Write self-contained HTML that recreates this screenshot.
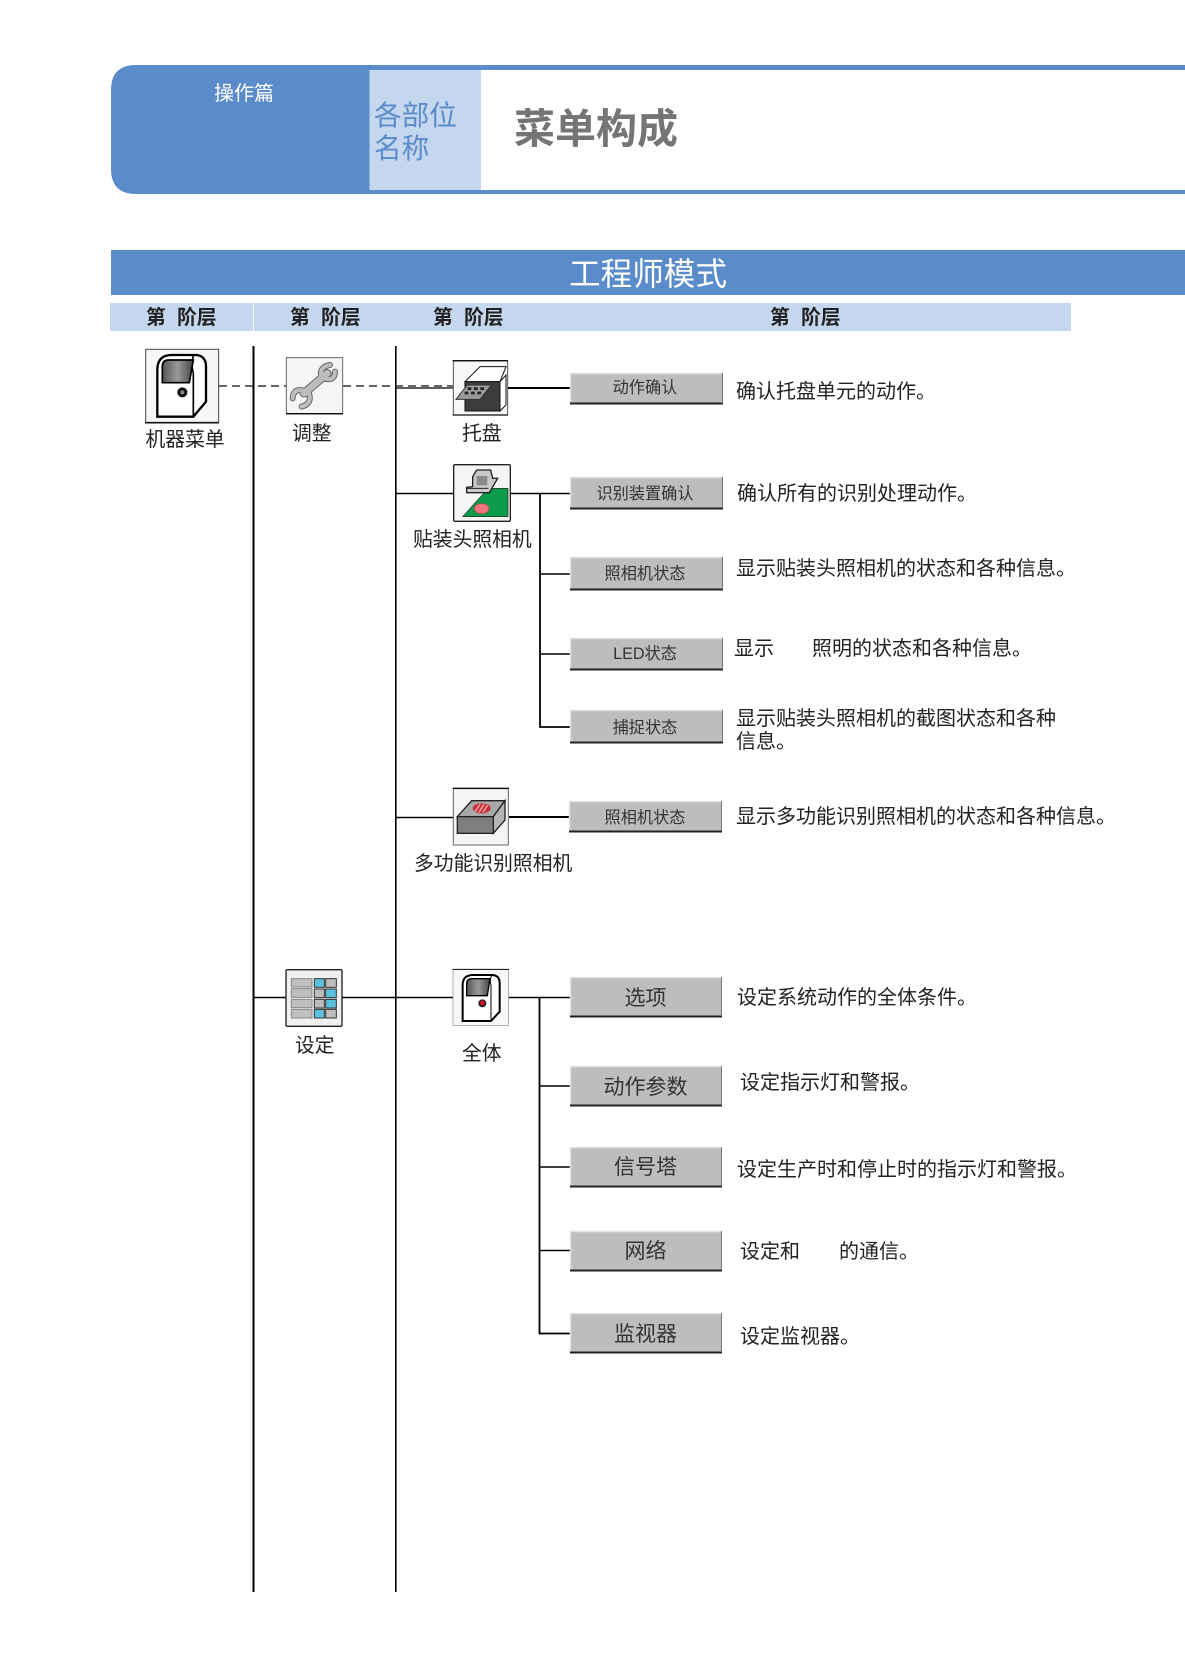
<!DOCTYPE html>
<html lang="zh"><head><meta charset="utf-8"><title>菜单构成</title>
<style>
html,body{margin:0;padding:0;background:#fff;width:1185px;height:1675px;overflow:hidden}
svg{display:block}
text{font-family:"Liberation Sans","Noto Sans CJK SC","WenQuanYi Zen Hei",sans-serif;fill:#222}
.d{font-size:20px}
.l{font-size:19.8px}
.b{font-size:16.2px;text-anchor:middle;fill:#333}
.B{font-size:21px;text-anchor:middle;fill:#333}
.h{font-size:19.8px;font-weight:bold;fill:#222}
</style></head><body>
<svg width="1185" height="1675" viewBox="0 0 1185 1675" xmlns="http://www.w3.org/2000/svg">
<defs>
<linearGradient id="w" x1="0" x2="1" y1="0" y2="0"><stop offset="0" stop-color="#555"/><stop offset=".5" stop-color="#999"/><stop offset="1" stop-color="#444"/></linearGradient>
</defs>

<!-- header -->
<path d="M1185,65 H136 Q111,65 111,90 V169 Q111,194 136,194 H1185 V190 H481 V70 H1185 Z" fill="#5a8bca"/>
<rect x="369.500" y="70" width="111.500" height="120" fill="#c5d6ef"/>
<text x="214" y="100" font-size="20" style="fill:#fff">操作篇</text>
<text x="374" y="125" font-size="27.600" style="fill:#5a8bca">各部位</text>
<text x="374" y="158" font-size="27.600" style="fill:#5a8bca">名称</text>
<text x="514" y="143" font-size="41" font-weight="bold" style="fill:#757575">菜单构成</text>

<rect x="111" y="250" width="1074" height="45" fill="#5a8bca"/>
<text x="569" y="285" font-size="31.600" style="fill:#fff">工程师模式</text>

<rect x="110" y="303" width="961" height="28" fill="#c5d6ef"/>
<rect x="253" y="303" width="1" height="28" fill="#fff"/>
<text class="h" x="146" y="324">第</text><text class="h" x="177" y="324">阶层</text>
<text class="h" x="290" y="324">第</text><text class="h" x="321" y="324">阶层</text>
<text class="h" x="433" y="324">第</text><text class="h" x="464" y="324">阶层</text>
<text class="h" x="770" y="324">第</text><text class="h" x="801" y="324">阶层</text>

<!-- main lines -->
<g stroke="#000" fill="none">
<path d="M253.500,346 V1592" stroke-width="2"/>
<path d="M395.800,346 V1592" stroke-width="1.600"/>
<path d="M219,386 H286 M343,386 H453" stroke="#333" stroke-width="1.400" stroke-dasharray="8 5"/>
<path d="M396,388 H453" stroke-width="1.200"/>
<path d="M508,388 H571" stroke-width="2"/>
<path d="M396,493.500 H453" stroke-width="1.400"/>
<path d="M511,493.500 H570" stroke-width="1.400"/>
<path d="M540,493 V727 H570" stroke-width="1.800"/>
<path d="M540,574 H570 M540,654 H570" stroke-width="1.600"/>
<path d="M396,817.500 H453" stroke-width="1.600"/>
<path d="M509,817 H569" stroke-width="2"/>
<path d="M253,997.500 H286 M342,997.500 H453" stroke-width="1.400"/>
<path d="M509,997.500 H570" stroke-width="1.600"/>
<path d="M539.500,997 V1333.500 H570" stroke-width="1.800"/>
<path d="M539,1086 H570 M539,1167 H570 M539,1250.500 H570" stroke-width="1.600"/>
</g>

<!-- buttons -->
<g>
<g fill="#bdbdbd" stroke="none">
<rect x="570" y="373" width="153" height="31"/>
<rect x="570" y="477" width="153" height="32"/>
<rect x="570" y="557" width="153" height="33"/>
<rect x="570" y="638" width="153" height="32"/>
<rect x="570" y="710" width="153" height="33"/>
<rect x="569" y="801" width="153" height="31"/>
<rect x="570" y="977" width="152" height="40"/>
<rect x="570" y="1066" width="152" height="40"/>
<rect x="570" y="1147" width="152" height="40"/>
<rect x="570" y="1231" width="152" height="40"/>
<rect x="570" y="1313" width="152" height="40"/>
</g>
<g fill="none" stroke="#e2e2e2" stroke-width="1.500">
<path d="M570.500,403 V373.500 H723"/><path d="M570.500,508 V477.500 H723"/><path d="M570.500,589 V557.500 H723"/><path d="M570.500,669 V638.500 H723"/><path d="M570.500,742 V710.500 H723"/><path d="M569.500,831 V801.500 H722"/>
<path d="M570.500,1016 V977.500 H722"/><path d="M570.500,1105 V1066.500 H722"/><path d="M570.500,1186 V1147.500 H722"/><path d="M570.500,1270 V1231.500 H722"/><path d="M570.500,1352 V1313.500 H722"/>
</g>
<g fill="none" stroke="#222" stroke-width="2">
<path d="M570,403.500 H723"/><path d="M570,508.500 H723"/><path d="M570,589.500 H723"/><path d="M570,669.500 H723"/><path d="M570,742.500 H723"/><path d="M569,831.500 H722"/>
<path d="M570,1016.500 H722"/><path d="M570,1105.500 H722"/><path d="M570,1186.500 H722"/><path d="M570,1270.500 H722"/><path d="M570,1352.500 H722"/>
</g>
<g fill="none" stroke="#777" stroke-width="1">
<path d="M722.500,373 V403"/><path d="M722.500,477 V508"/><path d="M722.500,557 V589"/><path d="M722.500,638 V669"/><path d="M722.500,710 V742"/><path d="M721.500,801 V831"/>
<path d="M721.500,977 V1016"/><path d="M721.500,1066 V1105"/><path d="M721.500,1147 V1186"/><path d="M721.500,1231 V1270"/><path d="M721.500,1313 V1352"/>
</g>
</g>
<text class="b" x="645" y="393">动作确认</text>
<text class="b" x="645" y="499">识别装置确认</text>
<text class="b" x="645" y="579">照相机状态</text>
<text class="b" x="645" y="659">LED状态</text>
<text class="b" x="645" y="733">捕捉状态</text>
<text class="b" x="645" y="823">照相机状态</text>
<text class="B" x="645.500" y="1005">选项</text>
<text class="B" x="645.500" y="1094">动作参数</text>
<text class="B" x="645.500" y="1174">信号塔</text>
<text class="B" x="645.500" y="1258">网络</text>
<text class="B" x="645.500" y="1341">监视器</text>

<!-- descriptions -->
<text class="d" x="736" y="398">确认托盘单元的动作。</text>
<text class="d" x="737" y="500">确认所有的识别处理动作。</text>
<text class="d" x="736" y="575">显示贴装头照相机的状态和各种信息。</text>
<text class="d" x="734" y="655">显示</text><text class="d" x="812" y="655">照明的状态和各种信息。</text>
<text class="d" x="736" y="725">显示贴装头照相机的截图状态和各种</text>
<text class="d" x="736" y="748">信息。</text>
<text class="d" x="736" y="823">显示多功能识别照相机的状态和各种信息。</text>
<text class="d" x="737" y="1004">设定系统动作的全体条件。</text>
<text class="d" x="740" y="1089">设定指示灯和警报。</text>
<text class="d" x="737" y="1176">设定生产时和停止时的指示灯和警报。</text>
<text class="d" x="740" y="1258">设定和</text><text class="d" x="839" y="1258">的通信。</text>
<text class="d" x="740" y="1343">设定监视器。</text>

<!-- labels -->
<text class="l" x="145.500" y="446">机器菜单</text>
<text class="l" x="292" y="440">调整</text>
<text class="l" x="462" y="440">托盘</text>
<text class="l" x="413" y="546">贴装头照相机</text>
<text class="l" x="414" y="870">多功能识别照相机</text>
<text class="l" x="295" y="1052">设定</text>
<text class="l" x="462" y="1060">全体</text>

<!-- icons in zoomed coords -->
<g transform="translate(100 330) scale(.33333)">
 <!-- machine -->
 <rect x="137" y="58" width="219" height="221" fill="#f6f6f4" stroke="#444" stroke-width="3"/>
 <path d="M136,278 H356" stroke="#111" stroke-width="5"/>
 <path d="M172,260 V120 Q172,75 215,75 H290 Q318,78 318,110 V215 L280,260 Z" fill="#fff" stroke="#000" stroke-width="7"/>
 <path d="M280,78 Q272,100 280,130 V260" fill="none" stroke="#000" stroke-width="5"/>
 <path d="M187,158 V110 Q187,90 205,90 H280 L268,158 Z" fill="url(#w)" stroke="#000" stroke-width="5"/>
 <circle cx="247" cy="187" r="15" fill="#111"/><circle cx="247" cy="187" r="6" fill="#888"/>
 <!-- wrench -->
 <rect x="559" y="83" width="169" height="169" fill="#f5f5f3" stroke="#666" stroke-width="3"/>
 <path d="M558,251 H729" stroke="#111" stroke-width="4"/>
 <g fill="none" stroke-linecap="round">
  <path d="M612,190 L682,130" stroke="#666" stroke-width="26"/>
  <path d="M690,105 Q655,110 665,145 M705,125 Q705,155 670,145" stroke="#666" stroke-width="18"/>
  <path d="M605,230 Q640,220 625,185 M578,205 Q580,170 620,185" stroke="#666" stroke-width="18"/>
  <path d="M612,190 L682,130" stroke="#bdbdbd" stroke-width="20"/>
  <path d="M690,105 Q655,110 665,145 M705,125 Q705,155 670,145" stroke="#bdbdbd" stroke-width="12"/>
  <path d="M605,230 Q640,220 625,185 M578,205 Q580,170 620,185" stroke="#bdbdbd" stroke-width="12"/>
 </g>
 <!-- tray -->
 <rect x="1060" y="93" width="163" height="162" fill="#f7f8f5" stroke="#555" stroke-width="3"/>
 <path d="M1058,92 H1224 M1058,255 H1224" stroke="#111" stroke-width="4"/>
 <path d="M1095,155 L1140,110 H1218 L1200,155 Z" fill="#fff" stroke="#111" stroke-width="3"/>
 <path d="M1200,155 L1218,135 V225 L1200,243 Z" fill="#fff" stroke="#111" stroke-width="3"/>
 <rect x="1095" y="155" width="105" height="88" fill="#3c3c3c" stroke="#111" stroke-width="3"/>
 <path d="M1068,208 L1102,165 H1174 L1140,208 Z" fill="#9a9a9a" stroke="#333" stroke-width="3"/>
 <g fill="#222">
 <rect x="1103" y="172" width="11" height="8"/><rect x="1122" y="172" width="11" height="8"/><rect x="1141" y="172" width="11" height="8"/>
 <rect x="1094" y="185" width="11" height="8"/><rect x="1113" y="185" width="11" height="8"/><rect x="1132" y="185" width="11" height="8"/>
 </g>
 <!-- camera -->
 <rect x="1061" y="404" width="170" height="170" rx="4" fill="#f5f6f3" stroke="#222" stroke-width="4"/>
 <path d="M1088,560 L1165,475 H1224 V560 Z" fill="#0c9b4a" stroke="#222" stroke-width="2"/>
 <ellipse cx="1145" cy="536" rx="22" ry="15" fill="#ef7580" stroke="#c44" stroke-width="2"/>
 <path d="M1118,470 V440 L1130,420 H1172 L1178,445 H1193 L1168,488 H1100 V472 Z" fill="#c9c9c9" stroke="#222" stroke-width="4"/>
 <rect x="1130" y="438" width="32" height="28" fill="#8a8a8a"/>
 <path d="M1100,475 H1165" stroke="#222" stroke-width="3"/>
</g>

<g transform="translate(400 770) scale(.33333)">
 <rect x="160" y="56" width="165" height="169" fill="#f5f6f3" stroke="#666" stroke-width="3"/>
 <path d="M158,55 H327" stroke="#111" stroke-width="4"/>
 <path d="M172,140 L215,92 H315 L280,140 Z" fill="#a9a9a9" stroke="#222" stroke-width="4"/>
 <path d="M280,140 L315,92 V150 L280,190 Z" fill="#b5b5b5" stroke="#222" stroke-width="4"/>
 <rect x="172" y="140" width="108" height="50" fill="#7f7f7f" stroke="#222" stroke-width="4"/>
 <ellipse cx="245" cy="115" rx="27" ry="15" fill="#c9303a"/>
 <path d="M225,125 L240,103 M237,127 L252,103 M249,126 L263,106" stroke="#f0b0b0" stroke-width="4"/>
</g>

<g transform="translate(260 950) scale(.33333)">
 <!-- settings -->
 <rect x="78" y="59" width="168" height="170" rx="4" fill="#f0f0ee" stroke="#222" stroke-width="4"/>
 <g fill="#bfbfbf" stroke="#888" stroke-width="3">
  <rect x="94" y="86" width="62" height="25"/><rect x="94" y="116" width="62" height="26"/><rect x="94" y="148" width="62" height="25"/><rect x="94" y="178" width="62" height="26"/>
 </g>
 <g stroke="#333" stroke-width="3" fill="#bdbdbd">
  <rect x="163" y="86" width="30" height="26" fill="#5bc1dc"/><rect x="197" y="86" width="32" height="26"/>
  <rect x="163" y="117" width="30" height="26"/><rect x="197" y="117" width="32" height="26" fill="#5bc1dc"/>
  <rect x="163" y="148" width="30" height="26"/><rect x="197" y="148" width="32" height="26" fill="#5bc1dc"/>
  <rect x="163" y="178" width="30" height="26" fill="#5bc1dc"/><rect x="197" y="178" width="32" height="26"/>
 </g>
 <!-- overall -->
 <rect x="579" y="59" width="167" height="167" fill="#f7f9f6" stroke="#888" stroke-width="2"/>
 <path d="M578,58 H747" stroke="#111" stroke-width="3"/>
 <path d="M608,213 V105 Q608,75 640,75 H695 Q719,75 719,100 V185 L693,213 Z" fill="#fff" stroke="#000" stroke-width="6"/>
 <path d="M695,76 Q688,90 693,105 V213" fill="none" stroke="#000" stroke-width="3"/>
 <path d="M620,137 V102 Q620,86 635,86 H690 L682,137 Z" fill="url(#w)" stroke="#000" stroke-width="4"/>
 <circle cx="667" cy="160" r="12" fill="#222"/><circle cx="667" cy="159" r="7" fill="#e0102a"/>
</g>
</svg>
</body></html>
